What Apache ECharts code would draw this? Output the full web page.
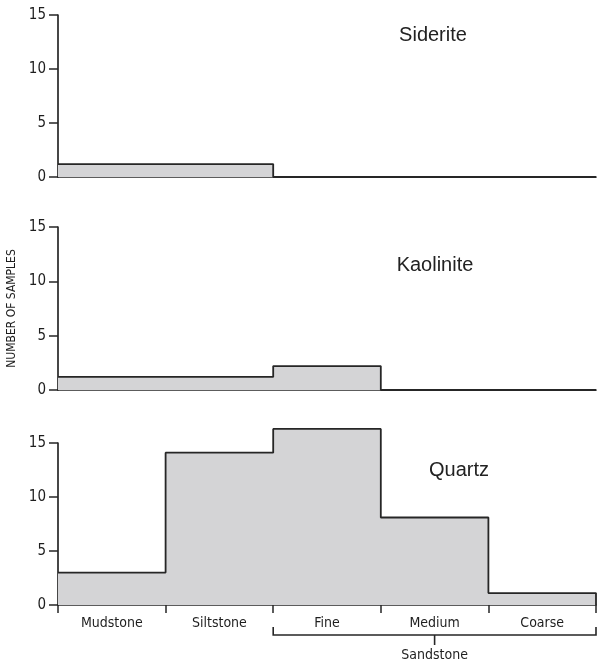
<!DOCTYPE html>
<html>
<head>
<meta charset="utf-8">
<script src="https://cdn.jsdelivr.net/npm/echarts@6/dist/echarts.min.js"></script>
<style>
html,body{margin:0;padding:0;background:#fff;}
#chart{width:597px;height:662px;}
</style>
</head>
<body>
<div id="chart"></div>
<script>
// ---- data ----
const categories = ['Mudstone', 'Siltstone', 'Fine', 'Medium', 'Coarse'];
const sideriteValues = [1.2, 1.2, 0, 0, 0];
const kaoliniteValues = [1.2, 1.2, 2.2, 0, 0];
const quartzValues = [3.0, 14.1, 16.3, 8.1, 1.1];
const panelNames = ['Siderite', 'Kaolinite', 'Quartz'];
const yTicks = [0, 5, 10, 15];
const groupLabel = 'Sandstone';
const groupRange = [2, 5]; // Fine..Coarse boundaries
const yAxisTitle = 'NUMBER OF SAMPLES';

// ---- layout / style ----
const NARROW = "'Liberation Sans Narrow', 'DejaVu Sans Condensed', 'Arial Narrow', sans-serif";
const SANS = "'Liberation Sans', Arial, Helvetica, sans-serif";
const INK = '#262626';
const FILL = '#d4d4d6';
const grids = [
  {left: 58, right: 1, top: 15, height: 162, outerBoundsMode: 'none', containLabel: false},
  {left: 58, right: 1, top: 227, height: 163, outerBoundsMode: 'none', containLabel: false},
  {left: 58, right: 1, top: 443, height: 162, outerBoundsMode: 'none', containLabel: false}
];
const titlePos = [[433, 35], [435, 265], [459, 470]];

function stepPoints(vals) {
  const pts = vals.map((v, i) => [i, v]);
  pts.push([vals.length, vals[vals.length - 1]]);
  pts.push([vals.length, 0]);
  return pts;
}

const allValues = [sideriteValues, kaoliniteValues, quartzValues];
const xAxes = [], yAxes = [], series = [];
allValues.forEach((vals, g) => {
  const isBottom = g === 2;
  // value axis used for drawing the step outlines
  xAxes.push({
    type: 'value', gridIndex: g, min: 0, max: categories.length,
    position: 'top', show: false
  });
  // category axis for axis line, ticks and labels
  xAxes.push({
    type: 'category', gridIndex: g, data: categories, boundaryGap: true,
    position: 'bottom',
    axisLine: {show: true, onZero: false, lineStyle: {color: INK, width: 1.7}},
    axisTick: {show: isBottom, length: 8, alignWithLabel: false, lineStyle: {color: INK, width: 1.5}},
    axisLabel: {show: isBottom, margin: 11, color: '#1e1e1e', fontFamily: NARROW, fontSize: 14},
    splitLine: {show: false}
  });
  yAxes.push({
    type: 'value', gridIndex: g, min: yTicks[0], max: yTicks[yTicks.length - 1], interval: 5,
    axisLine: {show: true, lineStyle: {color: INK, width: 1.7}},
    axisTick: {show: true, length: 9, lineStyle: {color: INK, width: 1.5}},
    axisLabel: {margin: 12, color: '#1e1e1e', fontFamily: NARROW, fontSize: 15},
    splitLine: {show: false},
    name: g === 1 ? yAxisTitle : '',
    nameLocation: 'middle', nameRotate: 90, nameGap: 40,
    nameTextStyle: {fontFamily: NARROW, fontSize: 12, color: '#1e1e1e'}
  });
  series.push({
    type: 'line', xAxisIndex: g * 2, yAxisIndex: g,
    step: 'end', data: stepPoints(vals), clip: false,
    symbol: 'none', silent: true,
    lineStyle: {color: INK, width: 1.8},
    areaStyle: {color: FILL, opacity: 1, origin: 'start'},
    z: 1
  });
});

const chart = echarts.init(document.getElementById('chart'), null, {renderer: 'canvas'});
chart.setOption({
  animation: false,
  backgroundColor: '#fff',
  grid: grids,
  xAxis: xAxes,
  yAxis: yAxes,
  series: series
});

// panel titles and the sandstone bracket
const x0 = chart.convertToPixel({xAxisIndex: 4}, groupRange[0]);
const x1 = chart.convertToPixel({xAxisIndex: 4}, groupRange[1]);
const xm = (x0 + x1) / 2;
const yB = 635;
const graphics = panelNames.map((n, i) => ({
  type: 'text', x: titlePos[i][0], y: titlePos[i][1],
  style: {text: n, font: '20px ' + SANS, fill: '#222', textAlign: 'center', textVerticalAlign: 'middle'}
}));
graphics.push({
  type: 'polyline',
  shape: {points: [[x0, yB - 8], [x0, yB], [x1, yB], [x1, yB - 8]]},
  style: {stroke: INK, lineWidth: 1.6, fill: null}
});
graphics.push({
  type: 'line', shape: {x1: xm, y1: yB, x2: xm, y2: yB + 10},
  style: {stroke: INK, lineWidth: 1.6}
});
graphics.push({
  type: 'text', x: xm, y: 655,
  style: {text: groupLabel, font: '14px ' + NARROW, fill: '#1e1e1e', textAlign: 'center', textVerticalAlign: 'middle'}
});
chart.setOption({graphic: graphics});
</script>
</body>
</html>
